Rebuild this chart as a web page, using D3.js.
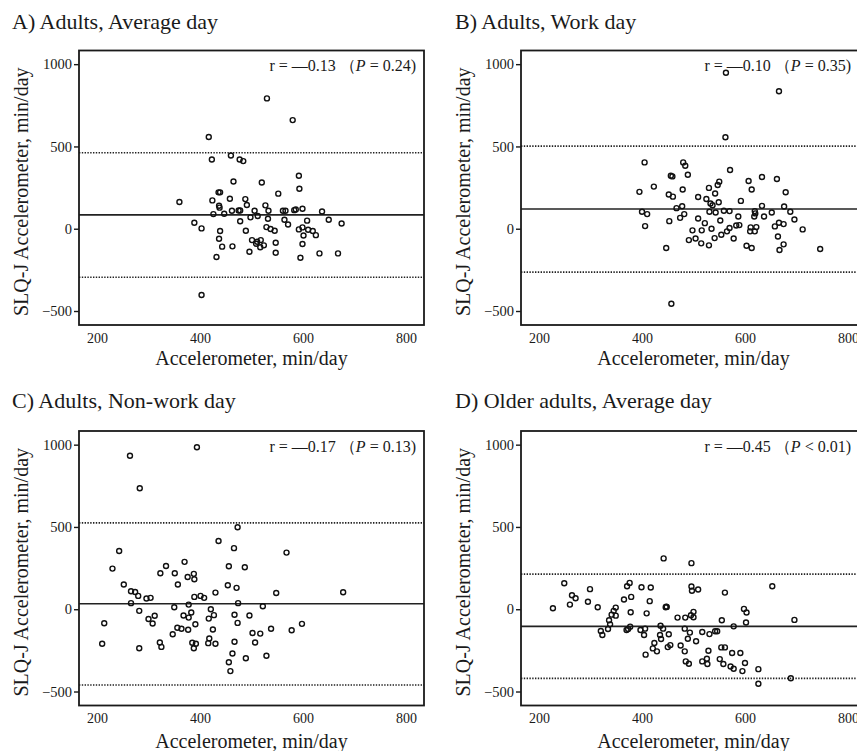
<!DOCTYPE html>
<html><head><meta charset="utf-8">
<script src="https://cdn.jsdelivr.net/npm/d3@7"></script>
<style>
body{margin:0;background:#fff;}
svg{display:block;}
text{font-family:"Liberation Serif","Times New Roman",serif;fill:#1a1a1a;}
</style></head>
<body><svg id="c" width="857" height="751"></svg>
<script>
// ---------- data ----------
const panelTitles = ["A) Adults, Average day","B) Adults, Work day","C) Adults, Non-work day","D) Older adults, Average day"];
const rLabels = ["r = —0.13","r = —0.10","r = —0.17","r = —0.45"];
const pOps = ["=","=","=","<"];
const pValues = ["0.24","0.35","0.13","0.01"];
const xTicks = [200,400,600,800];
const yTicks = [-500,0,500,1000];
const xTitle = "Accelerometer, min/day";
const yTitle = "SLQ-J Accelerometer, min/day";
const meanDiff = [84,120,33,-104];
const upperLoA = [462,502,525,213];
const lowerLoA = [-295,-264,-460,-420];

const accelA = [530,580,417,423,460,477,484,592,465,520,593,552,360,436,439,424,458,488,437,438,491,527,426,447,462,475,478,506,533,561,566,583,586,599,637,512,498,532,564,571,608,650,675,389,403,478,439,489,529,537,545,592,599,610,619,625,601,437,501,511,518,509,517,524,547,443,463,599,432,496,547,595,632,668,403];
const diffA = [792,660,557,421,445,421,411,322,287,281,243,213,162,221,221,172,182,180,140,128,144,142,89,91,109,111,111,109,109,109,109,113,117,121,105,77,69,61,55,26,49,55,32,36,2,45,-14,-12,10,-2,-12,-4,8,-6,-14,-39,-41,-61,-69,-79,-69,-91,-113,-101,-85,-109,-107,-93,-172,-140,-146,-176,-150,-150,-403];

const accelB = [563,666,562,405,480,484,489,456,459,571,633,662,607,423,395,479,550,547,613,679,530,542,452,460,509,525,533,537,549,592,478,467,633,676,400,410,531,543,559,570,619,620,652,688,482,474,453,406,509,522,552,587,618,637,696,583,589,611,622,658,666,675,712,498,516,535,570,565,610,619,491,504,515,530,541,554,578,603,613,664,675,667,447,746,457];
const diffB = [948,835,556,403,403,383,328,322,318,357,314,302,290,256,224,238,286,266,238,222,248,214,208,195,193,181,153,143,161,169,137,125,139,135,103,89,103,99,109,107,107,93,99,103,89,66,46,16,62,34,50,74,74,74,56,20,22,8,10,14,36,28,-4,-10,-10,0,4,-16,-16,-16,-69,-59,-89,-101,-57,-37,-59,-103,-117,-47,-95,-129,-117,-123,-456];

const accelC = [394,264,283,473,436,466,243,568,230,334,370,323,351,388,376,389,357,456,487,252,454,471,266,274,280,296,304,389,401,408,430,548,678,266,378,474,522,350,282,421,467,496,300,312,308,368,378,383,427,417,473,391,214,356,364,377,425,347,538,578,598,502,517,210,282,322,325,385,388,392,416,418,430,467,507,463,489,529,456,459];
const diffC = [984,933,735,498,415,371,354,344,247,263,288,219,219,215,196,182,150,261,255,150,146,130,109,105,81,65,69,75,81,69,101,99,103,37,28,37,18,12,-10,0,-34,-38,-59,-40,-87,-38,-51,-20,-36,-57,-83,-91,-85,-113,-119,-125,-123,-152,-119,-128,-89,-144,-148,-210,-237,-202,-229,-204,-237,-210,-206,-178,-210,-198,-202,-269,-298,-283,-322,-376];

const accelD = [442,496,249,299,264,271,260,295,314,227,371,376,399,417,365,379,415,349,345,341,349,336,338,334,320,323,378,409,377,373,370,397,406,404,436,441,435,437,452,424,421,429,407,450,455,446,447,448,496,497,509,561,469,484,495,500,500,555,483,493,489,505,517,531,542,546,578,598,603,602,475,483,529,485,491,517,526,527,554,561,575,591,551,558,572,578,595,600,626,626,653,696,689];
const diffD = [309,280,158,122,85,67,28,45,12,6,140,160,134,132,59,75,49,10,-10,-33,-39,-67,-92,-120,-132,-157,-18,-25,-106,-120,-126,-126,-118,-157,-100,-118,-157,-181,-152,-205,-238,-256,-276,-230,-218,12,16,14,138,112,120,101,-51,-51,-37,-16,-49,-67,-118,-142,-179,-195,-138,-151,-134,-134,-104,2,-20,-81,-220,-256,-252,-317,-331,-317,-301,-333,-232,-232,-266,-266,-303,-333,-348,-362,-376,-327,-364,-453,140,-65,-419];

const accelSeries = [accelA, accelB, accelC, accelD];
const diffSeries = [diffA, diffB, diffC, diffD];

// ---------- layout ----------
const layout = [
  {left:79, top:50.5, titleX:12, titleY:29, annX:416, xTitleY:364.5},
  {left:521, top:50.5, titleX:455, titleY:29, annX:851, xTitleY:364.5},
  {left:79, top:431, titleX:12, titleY:408, annX:416, xTitleY:748},
  {left:521, top:431, titleX:455, titleY:408, annX:851, xTitleY:748}
];
const W = 345, H = 274.5;
const svg = d3.select("#c");

layout.forEach((L, i) => {
  const x = d3.scaleLinear().domain([165, 835]).range([L.left, L.left + W]);
  const y = d3.scaleLinear().domain([-585, 1083]).range([L.top + H, L.top]);
  const g = svg.append("g");

  // title
  g.append("text").attr("x", L.titleX).attr("y", L.titleY).style("font-size", "22px").text(panelTitles[i]);

  // clip for plot contents
  const clipId = "clip" + i;
  g.append("clipPath").attr("id", clipId).append("rect")
    .attr("x", L.left).attr("y", L.top).attr("width", W).attr("height", H);
  const inner = g.append("g").attr("clip-path", `url(#${clipId})`);

  // reference lines
  inner.append("line").attr("x1", x(165)).attr("x2", x(835))
    .attr("y1", y(meanDiff[i])).attr("y2", y(meanDiff[i]))
    .attr("stroke", "#222").attr("stroke-width", 1.6);
  [upperLoA[i], lowerLoA[i]].forEach(v => {
    inner.append("line").attr("x1", x(165)).attr("x2", x(835))
      .attr("y1", y(v)).attr("y2", y(v))
      .attr("stroke", "#222").attr("stroke-width", 1.6).attr("stroke-dasharray", "1.4,1.4");
  });

  // points
  inner.selectAll("circle.pt").data(d3.zip(accelSeries[i], diffSeries[i])).join("circle")
    .attr("class", "pt")
    .attr("cx", d => x(d[0])).attr("cy", d => y(d[1])).attr("r", 2.5)
    .attr("fill", "none").attr("stroke", "#111").attr("stroke-width", 1.4);

  // frame
  g.append("rect").attr("x", L.left).attr("y", L.top).attr("width", W).attr("height", H)
    .attr("fill", "none").attr("stroke", "#1a1a1a").attr("stroke-width", 1.8);

  // axes
  const xa = g.append("g").attr("transform", `translate(0,${L.top + H})`)
    .call(d3.axisBottom(x).tickValues(xTicks).tickSize(0).tickPadding(8).tickFormat(d3.format("d")));
  xa.select(".domain").remove();
  xa.selectAll("text").style("font-size", "14px").style("font-family", "'Liberation Serif',serif").attr("fill", "#1a1a1a");

  const ya = g.append("g").attr("transform", `translate(${L.left},0)`)
    .call(d3.axisLeft(y).tickValues(yTicks).tickSize(5).tickPadding(2).tickFormat(d => d < 0 ? "\u2212" + Math.abs(d) : d));
  ya.select(".domain").remove();
  ya.selectAll("line").attr("stroke", "#1a1a1a").attr("stroke-width", 1.4);
  ya.selectAll("text").style("font-size", "14.5px").style("font-family", "'Liberation Serif',serif").attr("fill", "#1a1a1a");

  // axis titles
  g.append("text").attr("x", L.left + W / 2).attr("y", L.xTitleY)
    .attr("text-anchor", "middle").style("font-size", "20px").text(xTitle);
  g.append("text").attr("transform", `translate(${L.left - 51},${L.top + H / 2 + 4}) rotate(-90)`)
    .attr("text-anchor", "middle").style("font-size", "20px").text(yTitle);

  // annotation
  const a = g.append("text").attr("x", L.annX).attr("y", L.top + 20.5)
    .attr("text-anchor", "end").style("font-size", "16px");
  a.append("tspan").text(rLabels[i] + " （");
  a.append("tspan").style("font-style", "italic").text("P");
  a.append("tspan").text(" " + pOps[i] + " " + pValues[i] + ")");
});
</script></body></html>
